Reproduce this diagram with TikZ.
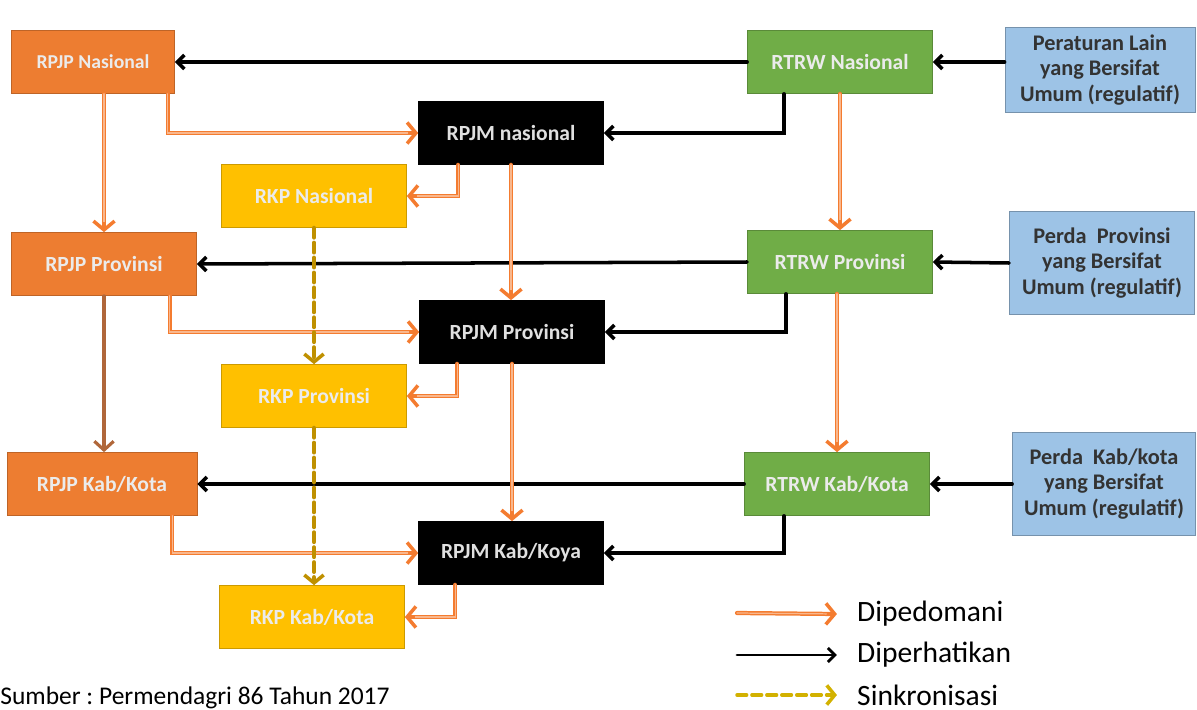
\documentclass[tikz,border=0pt]{standalone}
\usepackage{fontspec}
\setmainfont{Carlito}
\usetikzlibrary{arrows.meta}

\definecolor{rpjpcol}{HTML}{ED7D31}
\definecolor{rtrwcol}{HTML}{70AD47}
\definecolor{rkpcol}{HTML}{FFC000}
\definecolor{perdacol}{HTML}{9DC3E6}
\definecolor{pedcol}{HTML}{F47C30}
\definecolor{sinkcol}{HTML}{BF9000}
\definecolor{turuncol}{HTML}{B0673A}

\begin{document}
\begin{tikzpicture}[x=0.02cm, y=-0.02cm, line cap=round,
  font=\fontsize{12.3}{14}\selectfont\bfseries,
  box/.style={draw=#1!80!black, fill=#1, text=white!92!black, minimum width=3.7cm,
    minimum height=1.26cm, inner sep=2pt},
  perda box/.style={draw=perdacol!75!black, fill=perdacol, text=black!80,
    minimum width=3.7cm, minimum height=2.06cm, align=center,
    font=\fontsize{12.7}{14.3}\selectfont\bfseries},
  pedoman/.style={draw=pedcol, line width=2.4pt,
    -{Straight Barb[length=5pt, width=12pt, line width=2pt]},
    postaction={draw=pedcol!55, line width=0.7pt, -, shorten >=6pt}},
  perhatian/.style={draw=black, line width=2pt,
    -{Straight Barb[length=4pt, width=8pt]}},
  sinkron/.style={draw=sinkcol, line width=2.4pt, dash pattern=on 5.5pt off 3pt,
    -{Straight Barb[length=4.5pt, width=11pt, line width=2pt]}},
  turunan/.style={draw=turuncol, line width=1.8pt,
    -{Straight Barb[length=5pt, width=11pt]}},
  legend/.style={anchor=west, font=\fontsize{16.8}{19}\selectfont}]

  \useasboundingbox (0,0) rectangle (1197,710);

  % nasional
  \node[box=rpjpcol, minimum width=3.26cm, font=\fontsize{11.2}{13}\selectfont\bfseries]
    (rpjpN) at (93,62) {RPJP Nasional};
  \node[box=rtrwcol] (rtrwN) at (840,62) {RTRW Nasional};
  \node[perda box, minimum width=3.8cm, minimum height=1.7cm] (perN) at (1100,70)
    {Peraturan Lain\\yang Bersifat\\Umum (regulatif)};
  \node[box=black, text=black!12] (rpjmN) at (511,133) {RPJM nasional};
  \node[box=rkpcol] (rkpN) at (314,196) {RKP Nasional};

  % provinsi
  \node[box=rpjpcol] (rpjpP) at (104,264) {RPJP Provinsi};
  \node[box=rtrwcol] (rtrwP) at (840,262) {RTRW Provinsi};
  \node[perda box] (perP) at (1102,263)
    {Perda~~Provinsi\\yang Bersifat\\Umum (regulatif)};
  \node[box=black, text=black!12] (rpjmP) at (512,332) {RPJM Provinsi};
  \node[box=rkpcol] (rkpP) at (314,396) {RKP Provinsi};

  % kab/kota
  \node[box=rpjpcol, minimum width=3.8cm] (rpjpK) at (102,484) {RPJP Kab/Kota};
  \node[box=rtrwcol] (rtrwK) at (837,484) {RTRW Kab/Kota};
  \node[perda box, minimum width=3.66cm] (perK) at (1104,484)
    {Perda~~Kab/kota\\yang Bersifat\\Umum (regulatif)};
  \node[box=black, text=black!12] (rpjmK) at (511,553) {RPJM Kab/Koya};
  \node[box=rkpcol] (rkpK) at (312,617) {RKP Kab/Kota};

  % diperhatikan
  \draw[perhatian] (rtrwN.west) -- (rpjpN.east);
  \draw[perhatian] (perN.west |- rtrwN.east) -- (rtrwN.east);
  \draw[perhatian] (rtrwN.south west) ++(37,0) |- (rpjmN.east);
  \draw[perhatian] (rtrwP.west) -- (rpjpP.east);
  \draw[perhatian] (perP.west) -- (rtrwP.east);
  \draw[perhatian] (rtrwP.south west) ++(39,0) |- (rpjmP.east);
  \draw[perhatian] (rtrwK.west) -- (rpjpK.east);
  \draw[perhatian] (perK.west) -- (rtrwK.east);
  \draw[perhatian] (rtrwK.south west) ++(40,0) |- (rpjmK.east);

  % dipedomani
  \draw[pedoman] (rpjpN.south -| rpjpP.north) -- (rpjpP.north);
  \draw[pedoman] (rpjpN.south east) ++(-7,0) |- (rpjmN.west);
  \draw[pedoman] (rpjmN.south west) ++(40,0) |- (rkpN.east);
  \draw[pedoman] (rpjmN.south) -- (rpjmN.south |- rpjmP.north);
  \draw[pedoman] (rtrwN.south) -- (rtrwP.north);
  \draw[pedoman] (rpjpP.south east) ++(-27,0) |- (rpjmP.west);
  \draw[pedoman] (rpjmP.south west) ++(38,0) |- (rkpP.east);
  \draw[pedoman] (rpjmP.south) -- (rpjmP.south |- rpjmK.north);
  \draw[pedoman] (rtrwP.south -| rtrwK.north) -- (rtrwK.north);
  \draw[pedoman] (rpjpK.south east) ++(-25,0) |- (rpjmK.west);
  \draw[pedoman] (rpjmK.south west) ++(37,0) |- (rkpK.east);
  \draw[turunan] (rpjpP.south) -- (rpjpP.south |- rpjpK.north);

  % sinkronisasi
  \draw[sinkron] (rkpN.south) -- (rkpP.north);
  \draw[sinkron] (rkpP.south) -- (rkpP.south |- rkpK.north);

  % legend
  \node[legend] (lgPed) at (851,614) {Dipedomani};
  \node[legend] (lgPer) at (851,655) {Diperhatikan};
  \node[legend] (lgSin) at (851,695) {Sinkronisasi};
  \coordinate (lgA) at (737,613);
  \coordinate (lgB) at (737,655);
  \coordinate (lgC) at (737,695);
  \draw[pedoman] (lgA) -- ([xshift=-8pt]lgPed.west);
  \draw[perhatian, line width=1.6pt] (lgB) -- ([xshift=-8pt]lgPer.west);
  \draw[sinkron, line width=2pt, draw=sinkcol!70!yellow] (lgC) -- ([xshift=-8pt]lgSin.west);

  \node[anchor=base west, inner sep=0pt, font=\fontsize{14.5}{17}\selectfont]
    (src) at (0,704) {\frenchspacing Sumber : Permendagri 86 Tahun 2017};
\end{tikzpicture}
\end{document}
